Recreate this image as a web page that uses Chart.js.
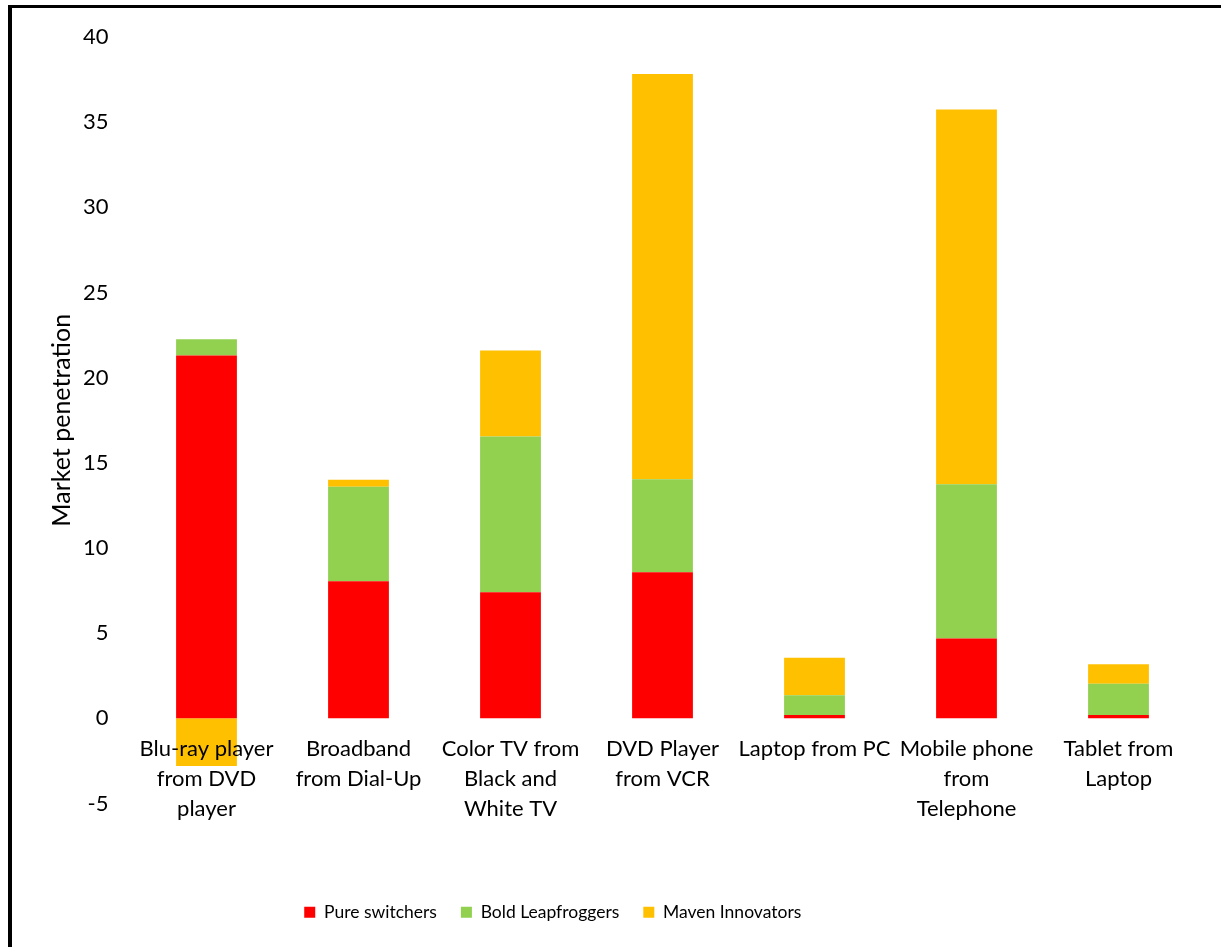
<!DOCTYPE html>
<html>
<head>
<meta charset="utf-8">
<script src="https://cdn.jsdelivr.net/npm/chart.js@4/dist/chart.umd.min.js"></script>
<style>
  html, body { margin: 0; padding: 0; background: #fff; overflow: hidden; }
  #frame { position: absolute; left: 8px; top: 5px; width: 1400px; height: 1100px; border-top: 3px solid #000; border-left: 4px solid #000; }
  #wrap { position: absolute; left: 0; top: 0; width: 1221px; height: 947px; }
</style>
</head>
<body>
<div id="frame"></div>
<div id="wrap"><canvas id="myChart"></canvas></div>
<script>
//categories, one array of lines per bar
const categories = [
  ['Blu-ray player', 'from DVD', 'player'],
  ['Broadband', 'from Dial-Up'],
  ['Color TV from', 'Black and', 'White TV'],
  ['DVD Player', 'from VCR'],
  ['Laptop from PC'],
  ['Mobile phone', 'from', 'Telephone'],
  ['Tablet from', 'Laptop']
];
//series values
const pureSwitchers = [21.3, 8.05, 7.4, 8.57, 0.2, 4.68, 0.2];
const boldLeapfroggers = [0.95, 5.55, 9.15, 5.46, 1.15, 9.06, 1.83];
const mavenInnovators = [-2.8, 0.4, 5.05, 23.8, 2.2, 22.0, 1.15];
//y axis range and step
const yMin = -5, yMax = 40, yStep = 5;

const fontName = 'Lato, "Open Sans", sans-serif';
const textColor = '#000';

//small helper plugin: moves the legend so it sits where the original one does
const legendShift = {
  id: 'legendShift',
  afterLayout(chart) {
    const lg = chart.legend;
    lg.left -= 66;
    lg.right -= 66;
    lg.top += 76;
    lg.bottom += 76;
  }
};

const ctx = document.getElementById('myChart');
new Chart(ctx, {
  type: 'bar',
  data: {
    labels: categories,
    datasets: [
      { label: 'Pure switchers', data: pureSwitchers, backgroundColor: '#FF0000' },
      { label: 'Bold Leapfroggers', data: boldLeapfroggers, backgroundColor: '#92D050' },
      { label: 'Maven Innovators', data: mavenInnovators, backgroundColor: '#FFC000' }
    ]
  },
  options: {
    responsive: true,
    maintainAspectRatio: false,
    animation: false,
    categoryPercentage: 1,
    barPercentage: 0.4,
    layout: { padding: { left: 43, right: 26.5, top: 37, bottom: 92 } },
    plugins: {
      tooltip: { enabled: false },
      legend: {
        position: 'bottom',
        labels: {
          boxWidth: 11, boxHeight: 11, padding: 24,
          color: textColor,
          font: { family: fontName, size: 17.5 }
        }
      }
    },
    scales: {
      x: {
        stacked: true,
        position: { y: 0 },
        grid: { display: false, drawTicks: false },
        border: { display: false },
        ticks: {
          z: 1,
          color: textColor, padding: 16, maxRotation: 0, autoSkip: false,
          font: { family: fontName, size: 22, lineHeight: 1.36 }
        }
      },
      y: {
        stacked: true,
        min: yMin, max: yMax,
        grid: { display: false, drawTicks: false },
        border: { display: false },
        afterFit(scale) { scale.width = 87.5; },
        ticks: {
          stepSize: yStep, color: textColor, padding: 22,
          font: { family: fontName, size: 22 }
        },
        title: {
          display: true, text: 'Market penetration', color: textColor,
          font: { family: fontName, size: 25 }
        }
      }
    }
  },
  plugins: [legendShift]
});
</script>
</body>
</html>
